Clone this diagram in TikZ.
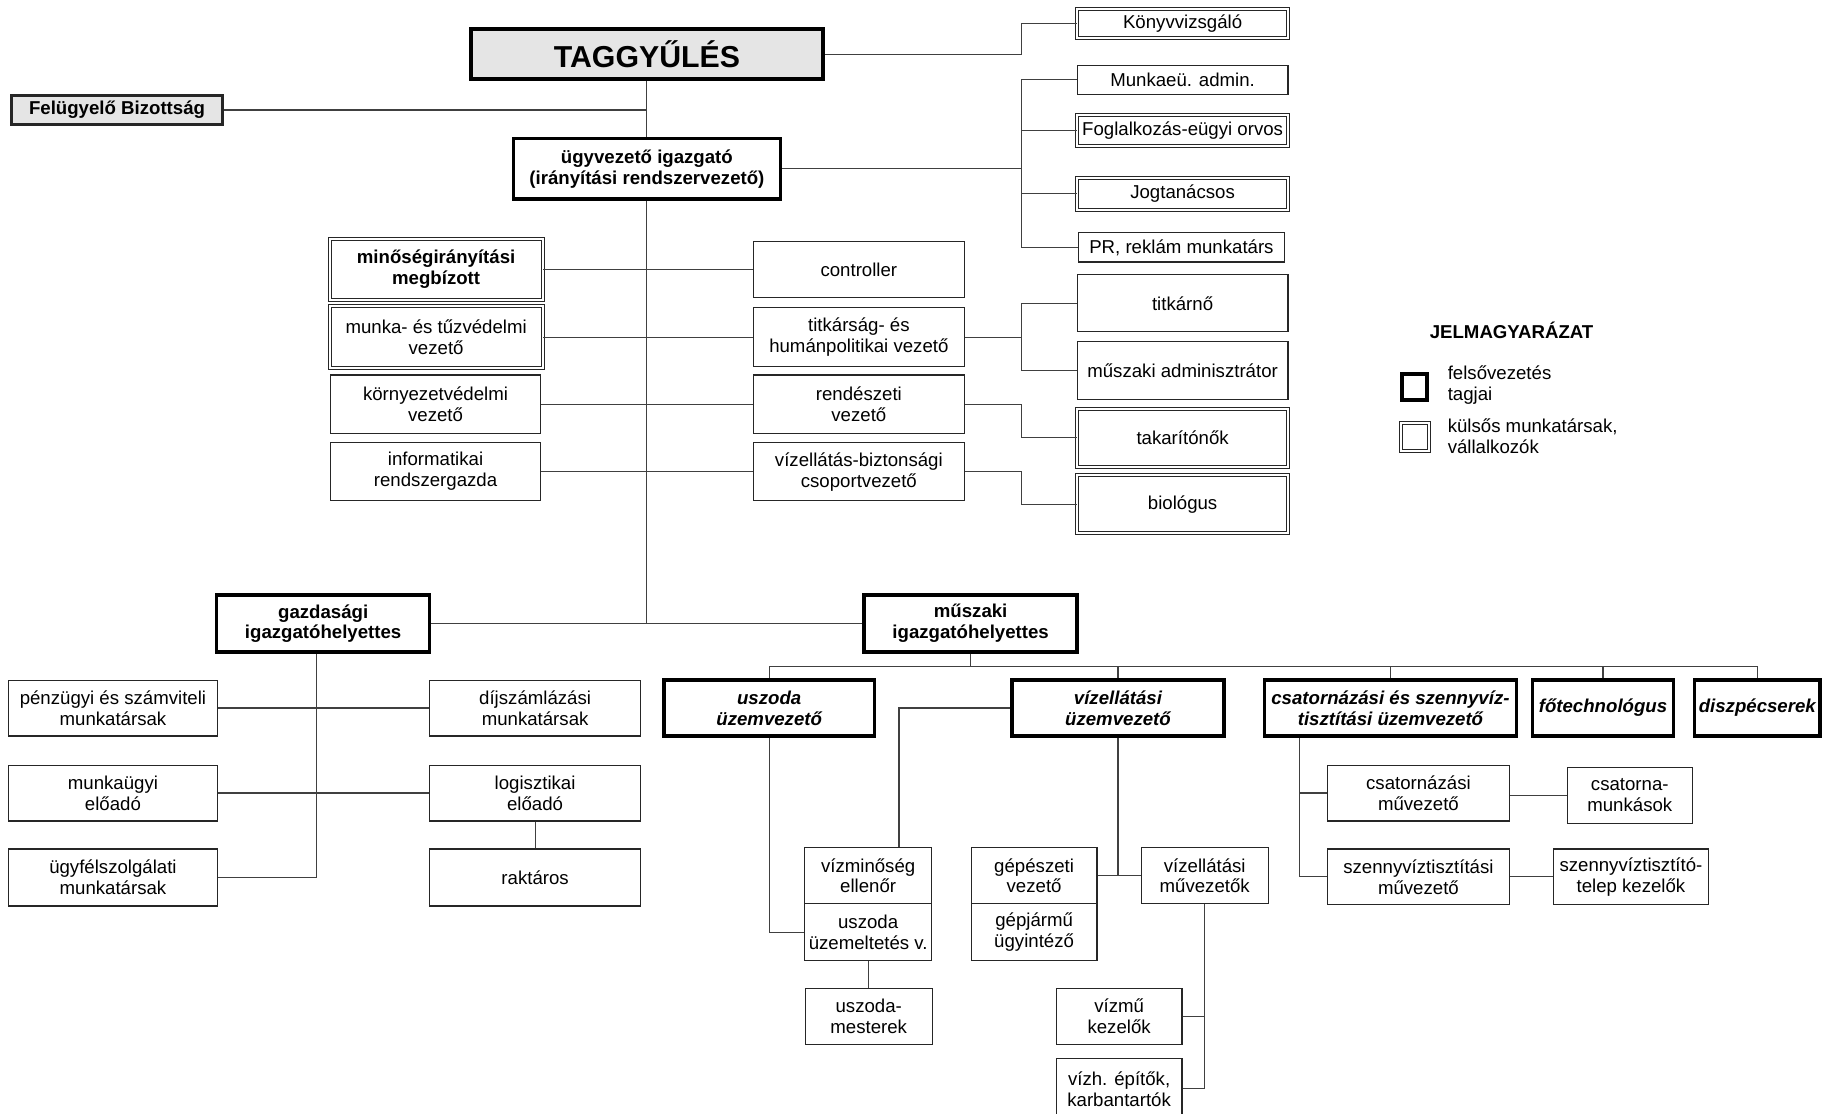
\documentclass[tikz,border=0pt]{standalone}
\usepackage{fontspec}
\setmainfont{Liberation Sans}
\definecolor{boxgray}{RGB}{229,229,229}
\tikzset{
  base/.style={draw=black!85, line width=1pt, inner sep=0pt, align=center, fill=white, font=\fontsize{16}{18}\selectfont},
  single/.style={base},
  dbl/.style={base, double=white, double distance=1.8pt, line width=0.8pt},
  topbox/.style={base, draw=black, line width=3pt, font=\fontsize{16}{18}\selectfont\bfseries},
  topit/.style={topbox, font=\fontsize{16}{18}\selectfont\bfseries\itshape},
  conn/.style={draw=black!75, line width=1pt},
  legtext/.style={inner sep=0pt, align=left, anchor=west, font=\fontsize{16}{18}\selectfont},
}
\begin{document}
\begin{tikzpicture}[x=1pt,y=-1pt]
\useasboundingbox (0,0) rectangle (1568,956);
% top level
\node[topbox, fill=boxgray, line width=3.5pt, minimum width=302pt, minimum height=43pt, font=\fontsize{26}{28}\selectfont\bfseries] (tag) at (555.5,46.5) {TAGGYŰLÉS};
\node[base, fill=boxgray, line width=2pt, minimum width=181pt, minimum height=25pt, font=\fontsize{16}{18}\selectfont\bfseries] (fb) at (100.5,94.5) {Felügyelő Bizottság};
\node[topbox, minimum width=229pt, minimum height=52pt] (ugy) at (555.5,145) {ügyvezető igazgató\\(irányítási rendszervezető)};
% right upper column
\node[dbl, minimum width=181pt, minimum height=25pt] (konyv) at (1015.5,20.5) {Könyvvizsgáló};
\node[single, minimum width=181pt, minimum height=25pt] (munkaeu) at (1015.5,68.5) {Munkaeü. admin.};
\node[dbl, minimum width=181pt, minimum height=26pt] (fogl) at (1015.5,112) {Foglalkozás-eügyi orvos};
\node[dbl, minimum width=181pt, minimum height=27pt] (jog) at (1015.5,166.5) {Jogtanácsos};
\node[single, minimum width=177pt, minimum height=25pt] (pr) at (1014.5,212.5) {PR, reklám munkatárs};
% staff rows
\node[dbl, minimum width=183pt, minimum height=52pt, font=\fontsize{16}{18}\selectfont\bfseries] (minoseg) at (374.5,231.5) {minőségirányítási\\megbízott};
\node[dbl, minimum width=183pt, minimum height=53pt] (munkatuz) at (374.5,289.5) {munka- és tűzvédelmi\\vezető};
\node[single, minimum width=180pt, minimum height=50pt] (kornyezet) at (374,347) {környezetvédelmi\\vezető};
\node[single, minimum width=180pt, minimum height=50pt] (inform) at (374,405) {informatikai\\rendszergazda};
\node[single, minimum width=181pt, minimum height=48pt] (controller) at (737.5,231.5) {controller};
\node[single, minimum width=181pt, minimum height=51pt] (titkarsag) at (737.5,289.5) {titkárság- és\\humánpolitikai vezető};
\node[single, minimum width=181pt, minimum height=50pt] (rendesz) at (737.5,347) {rendészeti\\vezető};
\node[single, minimum width=181pt, minimum height=50pt] (vizbizt) at (737.5,405) {vízellátás-biztonsági\\csoportvezető};
\node[single, minimum width=181pt, minimum height=49pt] (titkarno) at (1015.5,260.5) {titkárnő};
\node[single, minimum width=181pt, minimum height=50pt] (muszadm) at (1015.5,318) {műszaki adminisztrátor};
\node[dbl, minimum width=181pt, minimum height=50pt] (takarito) at (1015.5,376) {takarítónők};
\node[dbl, minimum width=181pt, minimum height=50pt] (biologus) at (1015.5,433) {biológus};
% legend
\node[inner sep=0pt, font=\fontsize{16}{18}\selectfont\bfseries] (legtitle) at (1298,284) {JELMAGYARÁZAT};
\node[draw=black, line width=3.5pt, minimum width=22pt, minimum height=22pt, inner sep=0pt] (legthick) at (1214.5,332.5) {};
\node[draw=black!85, double=white, double distance=1.8pt, line width=0.8pt, minimum width=24pt, minimum height=24pt, inner sep=0pt] (legdbl) at (1215,375) {};
\node[legtext] (legt1) at (1243,331) {felsővezetés\\tagjai};
\node[legtext] (legt2) at (1243,375) {külsős munkatársak,\\vállalkozók};
% deputies
\node[topbox, minimum width=183pt, minimum height=49pt] (gazd) at (277.5,535.5) {gazdasági\\igazgatóhelyettes};
\node[topbox, minimum width=183pt, minimum height=49pt] (musz) at (833.5,535.5) {műszaki\\igazgatóhelyettes};
% economic side
\node[single, minimum width=180pt, minimum height=48pt] (penz) at (97,608) {pénzügyi és számviteli\\munkatársak};
\node[single, minimum width=181pt, minimum height=48pt] (dij) at (459.5,608) {díjszámlázási\\munkatársak};
\node[single, minimum width=180pt, minimum height=48pt] (munkaugyi) at (97,681) {munkaügyi\\előadó};
\node[single, minimum width=181pt, minimum height=48pt] (logiszt) at (459.5,681) {logisztikai\\előadó};
\node[single, minimum width=180pt, minimum height=49pt] (ugyfel) at (97,753.5) {ügyfélszolgálati\\munkatársak};
\node[single, minimum width=181pt, minimum height=49pt] (raktaros) at (459.5,753.5) {raktáros};
% technical side
\node[topit, minimum width=181pt, minimum height=48pt] (uszoda) at (660.5,608) {uszoda\\üzemvezető};
\node[topit, minimum width=182pt, minimum height=48pt] (vizell) at (960,608) {vízellátási\\üzemvezető};
\node[topit, minimum width=216pt, minimum height=48pt] (csat) at (1194,608) {csatornázási és szennyvíz-\\tisztítási üzemvezető};
\node[topit, minimum width=121pt, minimum height=48pt] (fotech) at (1376.5,608) {főtechnológus};
\node[topit, minimum width=108pt, minimum height=48pt] (diszp) at (1509,608) {diszpécserek};
\node[single, minimum width=109pt, minimum height=48pt] (vizmin) at (745.5,752) {vízminőség\\ellenőr};
\node[single, minimum width=109pt, minimum height=49pt] (uszuzem) at (745.5,800.5) {uszoda\\üzemeltetés v.};
\node[single, minimum width=109pt, minimum height=48pt] (uszmest) at (746,873) {uszoda-\\mesterek};
\node[single, minimum width=108pt, minimum height=48pt] (gepesz) at (888,752) {gépészeti\\vezető};
\node[single, minimum width=108pt, minimum height=49pt] (gepjarmu) at (888,800.5) {gépjármű\\ügyintéző};
\node[single, minimum width=109pt, minimum height=48pt] (vizmuv) at (1034.5,752) {vízellátási\\művezetők};
\node[single, minimum width=108pt, minimum height=48pt] (vizmu) at (961,873) {vízmű\\kezelők};
\node[single, minimum width=108pt, minimum height=52pt] (vizh) at (961,935) {vízh. építők,\\karbantartók};
\node[single, minimum width=156pt, minimum height=48pt] (csatmuv) at (1218,681) {csatornázási\\művezető};
\node[single, minimum width=107pt, minimum height=48pt] (csatmunk) at (1399.5,683) {csatorna-\\munkások};
\node[single, minimum width=156pt, minimum height=48pt] (szennymuv) at (1218,753) {szennyvíztisztítási\\művezető};
\node[single, minimum width=133pt, minimum height=48pt] (szennytel) at (1400.5,753) {szennyvíztisztító-\\telep kezelők};
% helper coordinates
\coordinate (sp) at (877,0);
\coordinate (gv) at (272,0);
\coordinate (mb) at (833.5,572);
\coordinate (vx) at (772,0);
\coordinate (cx) at (1116,0);
% connectors
\begin{scope}[on background layer/.style={}]
\draw[conn] (tag.south) -- (ugy.north);
\draw[conn] (fb.east) -- (fb.east -| tag.south);
\draw[conn] (tag.east) -- (tag.east -| sp) |- (konyv.west);
\draw[conn] (ugy.east) -- (ugy.east -| sp);
\draw[conn] (munkaeu.west) -| (sp |- pr.west) -- (pr.west);
\draw[conn] (fogl.west) -- (fogl.west -| sp);
\draw[conn] (jog.west) -- (jog.west -| sp);
\draw[conn] (ugy.south) -- (ugy.south |- gazd.east);
\draw[conn] (minoseg.east) -- (controller.west);
\draw[conn] (munkatuz.east) -- (titkarsag.west);
\draw[conn] (kornyezet.east) -- (rendesz.west);
\draw[conn] (inform.east) -- (vizbizt.west);
\draw[conn] (titkarsag.east) -- (titkarsag.east -| sp);
\draw[conn] (titkarno.west) -| (sp |- muszadm.west) -- (muszadm.west);
\draw[conn] (rendesz.east) -- (rendesz.east -| sp) |- (takarito.west);
\draw[conn] (vizbizt.east) -- (vizbizt.east -| sp) |- (biologus.west);
\draw[conn] (gazd.east) -- (musz.west);
\draw[conn] (gazd.south -| gv) -- (gv |- ugyfel.east) -- (ugyfel.east);
\draw[conn] (penz.east) -- (dij.west);
\draw[conn] (munkaugyi.east) -- (logiszt.west);
\draw[conn] (logiszt.south) -- (raktaros.north);
\draw[conn] (musz.south) -- (mb);
\draw[conn] (uszoda.north |- mb) -- (diszp.north |- mb);
\draw[conn] (uszoda.north) -- (uszoda.north |- mb);
\draw[conn] (vizell.north) -- (vizell.north |- mb);
\draw[conn] (csat.north) -- (csat.north |- mb);
\draw[conn] (fotech.north) -- (fotech.north |- mb);
\draw[conn] (diszp.north) -- (diszp.north |- mb);
\draw[conn] (uszoda.south) |- (uszuzem.west);
\draw[conn] (vizell.west) -| (vx |- vizmin.north);
\draw[conn] (uszuzem.south) -- (uszuzem.south |- uszmest.north);
\draw[conn] (vizell.south) -- (vizell.south |- vizmuv.west);
\draw[conn] (gepesz.east) -- (vizmuv.west);
\draw[conn] (vizmuv.south) -- (vizmuv.south |- vizh.east) -- (vizh.east);
\draw[conn] (vizmu.east) -- (vizmu.east -| vizmuv.south);
\draw[conn] (cx |- csat.south) |- (szennymuv.west);
\draw[conn] (csatmuv.west) -- (csatmuv.west -| cx);
\draw[conn] (csatmunk.west -| csatmuv.east) -- (csatmunk.west);
\draw[conn] (szennymuv.east) -- (szennytel.west);
\end{scope}
\end{tikzpicture}
\end{document}
